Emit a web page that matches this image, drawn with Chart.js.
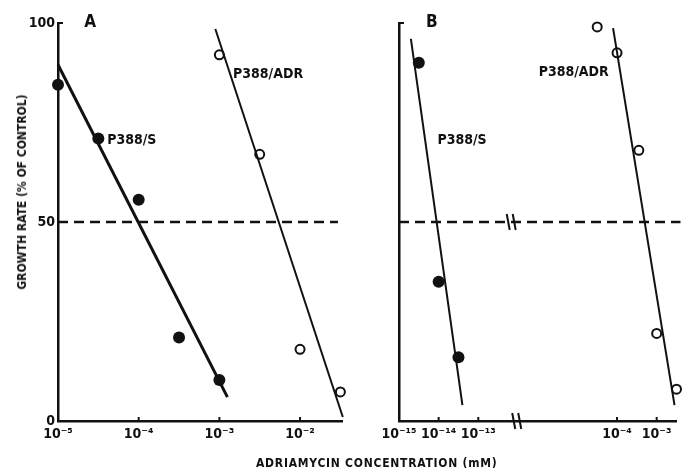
<!DOCTYPE html>
<html>
<head>
<meta charset="utf-8">
<script src="https://cdn.jsdelivr.net/npm/chart.js@4.4.0/dist/chart.umd.min.js"></script>
<style>
  html, body { margin: 0; padding: 0; background: #fff; }
  #wrap { position: relative; width: 683px; height: 468px; overflow: hidden; }
  #panel-a { position: absolute; left: 0; top: 0; }
  #panel-b { position: absolute; left: 350px; top: 0; }
  .axis-title {
    position: absolute;
    font: bold 12px 'DejaVu Sans Condensed', sans-serif;
    line-height: 14px;
    color: #111;
    white-space: nowrap;
  }
  #x-title { left: 256px; top: 456px; letter-spacing: 0.75px; }
  #y-title { left: 22px; top: 192px; transform: translate(-50%, -50%) rotate(-90deg); }
</style>
</head>
<body>
<div id="wrap">
  <canvas id="panel-a" width="350" height="468"></canvas>
  <canvas id="panel-b" width="333" height="468"></canvas>
  <div class="axis-title" id="y-title">GROWTH RATE (% OF CONTROL)</div>
  <div class="axis-title" id="x-title">ADRIAMYCIN CONCENTRATION (mM)</div>
</div>
<script>
// concentrations are kept as log10(mM), growth as % of control

// panel A
const aSensLogConc = [-5, -4.5, -4, -3.5, -3];
const aSensGrowth = [84.5, 71, 55.6, 21, 10.3];
const aResLogConc = [-3, -2.5, -2, -1.5];
const aResGrowth = [92, 67, 18, 7.3];
const aSensFitLogConc = [-5, -2.9];
const aSensFitGrowth = [89.5, 6];
const aResFitLogConc = [-3.05, -1.47];
const aResFitGrowth = [98.5, 1];
const aTickLogConc = [-5, -4, -3, -2];
const aTickLabels = ['10⁻⁵', '10⁻⁴', '10⁻³', '10⁻²'];

// panel B (broken x axis)
const bSensLogConc = [-14.5, -14, -13.5];
const bSensGrowth = [90, 35, 16];
const bResLogConc = [-4.5, -4, -3.45, -3, -2.5];
const bResGrowth = [99, 92.5, 68, 22, 8];
const bSensFitLogConc = [-14.7, -13.4];
const bSensFitGrowth = [96, 4];
const bResFitLogConc = [-4.1, -2.55];
const bResFitGrowth = [98.7, 4];
const bTickLogConc = [-15, -14, -13, -4, -3];
const bTickLabels = ['10⁻¹⁵', '10⁻¹⁴', '10⁻¹³', '10⁻⁴', '10⁻³'];

const yTickValues = [0, 50, 100];
const yTickLabels = ['0', '50', '100'];
const cutoffGrowth = 50;

const INK = '#111';
const FONT = "'DejaVu Sans Condensed', sans-serif";

// panel B axis: one unit per decade, the two pieces joined at the break
function bAxis(logC) {
    return logC < -8 ? logC + 15 : logC + 9.5;
}

function pairs(xs, ys, mapX) {
    return xs.map((x, i) => ({ x: mapX ? mapX(x) : x, y: ys[i] }));
}

function filledDots(data) {
    return {
        type: 'scatter', data: data,
        pointRadius: 6, pointBackgroundColor: INK, pointBorderColor: INK,
        pointBorderWidth: 0, clip: false
    };
}

function openDots(data) {
    return {
        type: 'scatter', data: data,
        pointRadius: 4.5, pointBackgroundColor: 'rgba(0,0,0,0)', pointBorderColor: INK,
        pointBorderWidth: 2, clip: false
    };
}

function fitLine(data, width, dash) {
    return {
        type: 'line', data: data, showLine: true,
        borderColor: INK, borderWidth: width, borderDash: dash || [],
        pointRadius: 0, fill: false, clip: false
    };
}

// inward tick marks, panel letters, curve labels and axis breaks
const decorPlugin = {
    id: 'decor',
    afterDatasetsDraw(chart, args, opts) {
        const ctx = chart.ctx;
        const xs = chart.scales.x;
        const ys = chart.scales.y;
        ctx.save();
        ctx.strokeStyle = INK;
        ctx.fillStyle = INK;
        ctx.lineWidth = 2;

        xs.ticks.forEach(t => {
            const px = xs.getPixelForValue(t.value);
            if (px <= xs.left + 1) return;
            ctx.beginPath();
            ctx.moveTo(px, ys.bottom);
            ctx.lineTo(px, ys.bottom - 4);
            ctx.stroke();
        });
        ys.ticks.forEach(t => {
            if (t.value === 0) return;
            const py = ys.getPixelForValue(t.value);
            ctx.beginPath();
            ctx.moveTo(xs.left, py);
            ctx.lineTo(xs.left + 5, py);
            ctx.stroke();
        });

        (opts.breaks || []).forEach(b => {
            const px = xs.getPixelForValue(b.x);
            const py = ys.getPixelForValue(b.y);
            ctx.lineWidth = 2;
            [-3, 3].forEach(dx => {
                ctx.beginPath();
                ctx.moveTo(px + dx - 1.5, py - 8);
                ctx.lineTo(px + dx + 1.5, py + 8);
                ctx.stroke();
            });
        });

        (opts.texts || []).forEach(t => {
            ctx.font = t.font;
            ctx.textAlign = t.align;
            ctx.textBaseline = 'middle';
            ctx.fillText(t.text, xs.getPixelForValue(t.x), ys.getPixelForValue(t.y));
        });
        ctx.restore();
    }
};

function panelOptions(cfg) {
    return {
        responsive: false,
        animation: false,
        layout: { padding: { top: 23, right: cfg.padRight, bottom: 0, left: 0 } },
        plugins: {
            legend: { display: false },
            tooltip: { enabled: false },
            decor: { texts: cfg.texts, breaks: cfg.breaks }
        },
        scales: {
            x: {
                type: 'linear', min: cfg.xMin, max: cfg.xMax,
                afterBuildTicks: s => { s.ticks = cfg.xTicks.map(v => ({ value: v })); },
                afterFit: s => { s.height = 47; },
                ticks: {
                    padding: 5, color: INK, maxRotation: 0, autoSkip: false,
                    font: { family: FONT, size: 14, weight: 'bold' },
                    callback: (v, i) => cfg.xLabels[i]
                },
                grid: { display: false, drawTicks: false },
                border: { display: true, color: INK, width: 2.5 }
            },
            y: {
                type: 'linear', min: 0, max: 100,
                afterBuildTicks: s => { s.ticks = yTickValues.map(v => ({ value: v })); },
                afterFit: s => { s.width = cfg.yWidth; },
                ticks: {
                    display: cfg.yLabels, padding: 3, color: INK,
                    font: { family: FONT, size: 14, weight: 'bold' },
                    callback: (v, i) => yTickLabels[i]
                },
                grid: { display: false, drawTicks: false },
                border: { display: true, color: INK, width: 2.5 }
            }
        }
    };
}

const labelFont = 'bold 14px ' + FONT;
const letterFont = 'bold 17px ' + FONT;

new Chart(document.getElementById('panel-a'), {
    type: 'scatter',
    data: {
        datasets: [
            filledDots(pairs(aSensLogConc, aSensGrowth)),
            openDots(pairs(aResLogConc, aResGrowth)),
            fitLine(pairs(aSensFitLogConc, aSensFitGrowth), 3),
            fitLine(pairs(aResFitLogConc, aResFitGrowth), 2),
            fitLine([{ x: -5, y: cutoffGrowth }, { x: -1.53, y: cutoffGrowth }], 2.5, [10, 6])
        ]
    },
    options: panelOptions({
        xMin: -5, xMax: -1.48, xTicks: aTickLogConc, xLabels: aTickLabels,
        yLabels: true, yWidth: 58, padRight: 8,
        texts: [
            { text: 'A', x: -4.6, y: 100, align: 'center', font: letterFont },
            { text: 'P388/S', x: -4.39, y: 70.4, align: 'left', font: labelFont },
            { text: 'P388/ADR', x: -2.83, y: 87.2, align: 'left', font: labelFont }
        ],
        breaks: []
    }),
    plugins: [decorPlugin]
});

new Chart(document.getElementById('panel-b'), {
    type: 'scatter',
    data: {
        datasets: [
            filledDots(pairs(bSensLogConc, bSensGrowth, bAxis)),
            openDots(pairs(bResLogConc, bResGrowth, bAxis)),
            fitLine(pairs(bSensFitLogConc, bSensFitGrowth, bAxis), 2),
            fitLine(pairs(bResFitLogConc, bResFitGrowth, bAxis), 2),
            fitLine([{ x: bAxis(-15), y: cutoffGrowth }, { x: bAxis(-2.4), y: cutoffGrowth }], 2.5, [10, 6])
        ]
    },
    options: panelOptions({
        xMin: 0, xMax: 7, xTicks: bTickLogConc.map(bAxis), xLabels: bTickLabels,
        yLabels: false, yWidth: 49, padRight: 4,
        texts: [
            { text: 'B', x: bAxis(-14.17), y: 100, align: 'center', font: letterFont },
            { text: 'P388/S', x: bAxis(-14.03), y: 70.6, align: 'left', font: labelFont },
            { text: 'P388/ADR', x: bAxis(-5.975), y: 87.7, align: 'left', font: labelFont }
        ],
        breaks: [{ x: 2.83, y: cutoffGrowth }, { x: 2.97, y: 0 }]
    }),
    plugins: [decorPlugin]
});
</script>
</body>
</html>
